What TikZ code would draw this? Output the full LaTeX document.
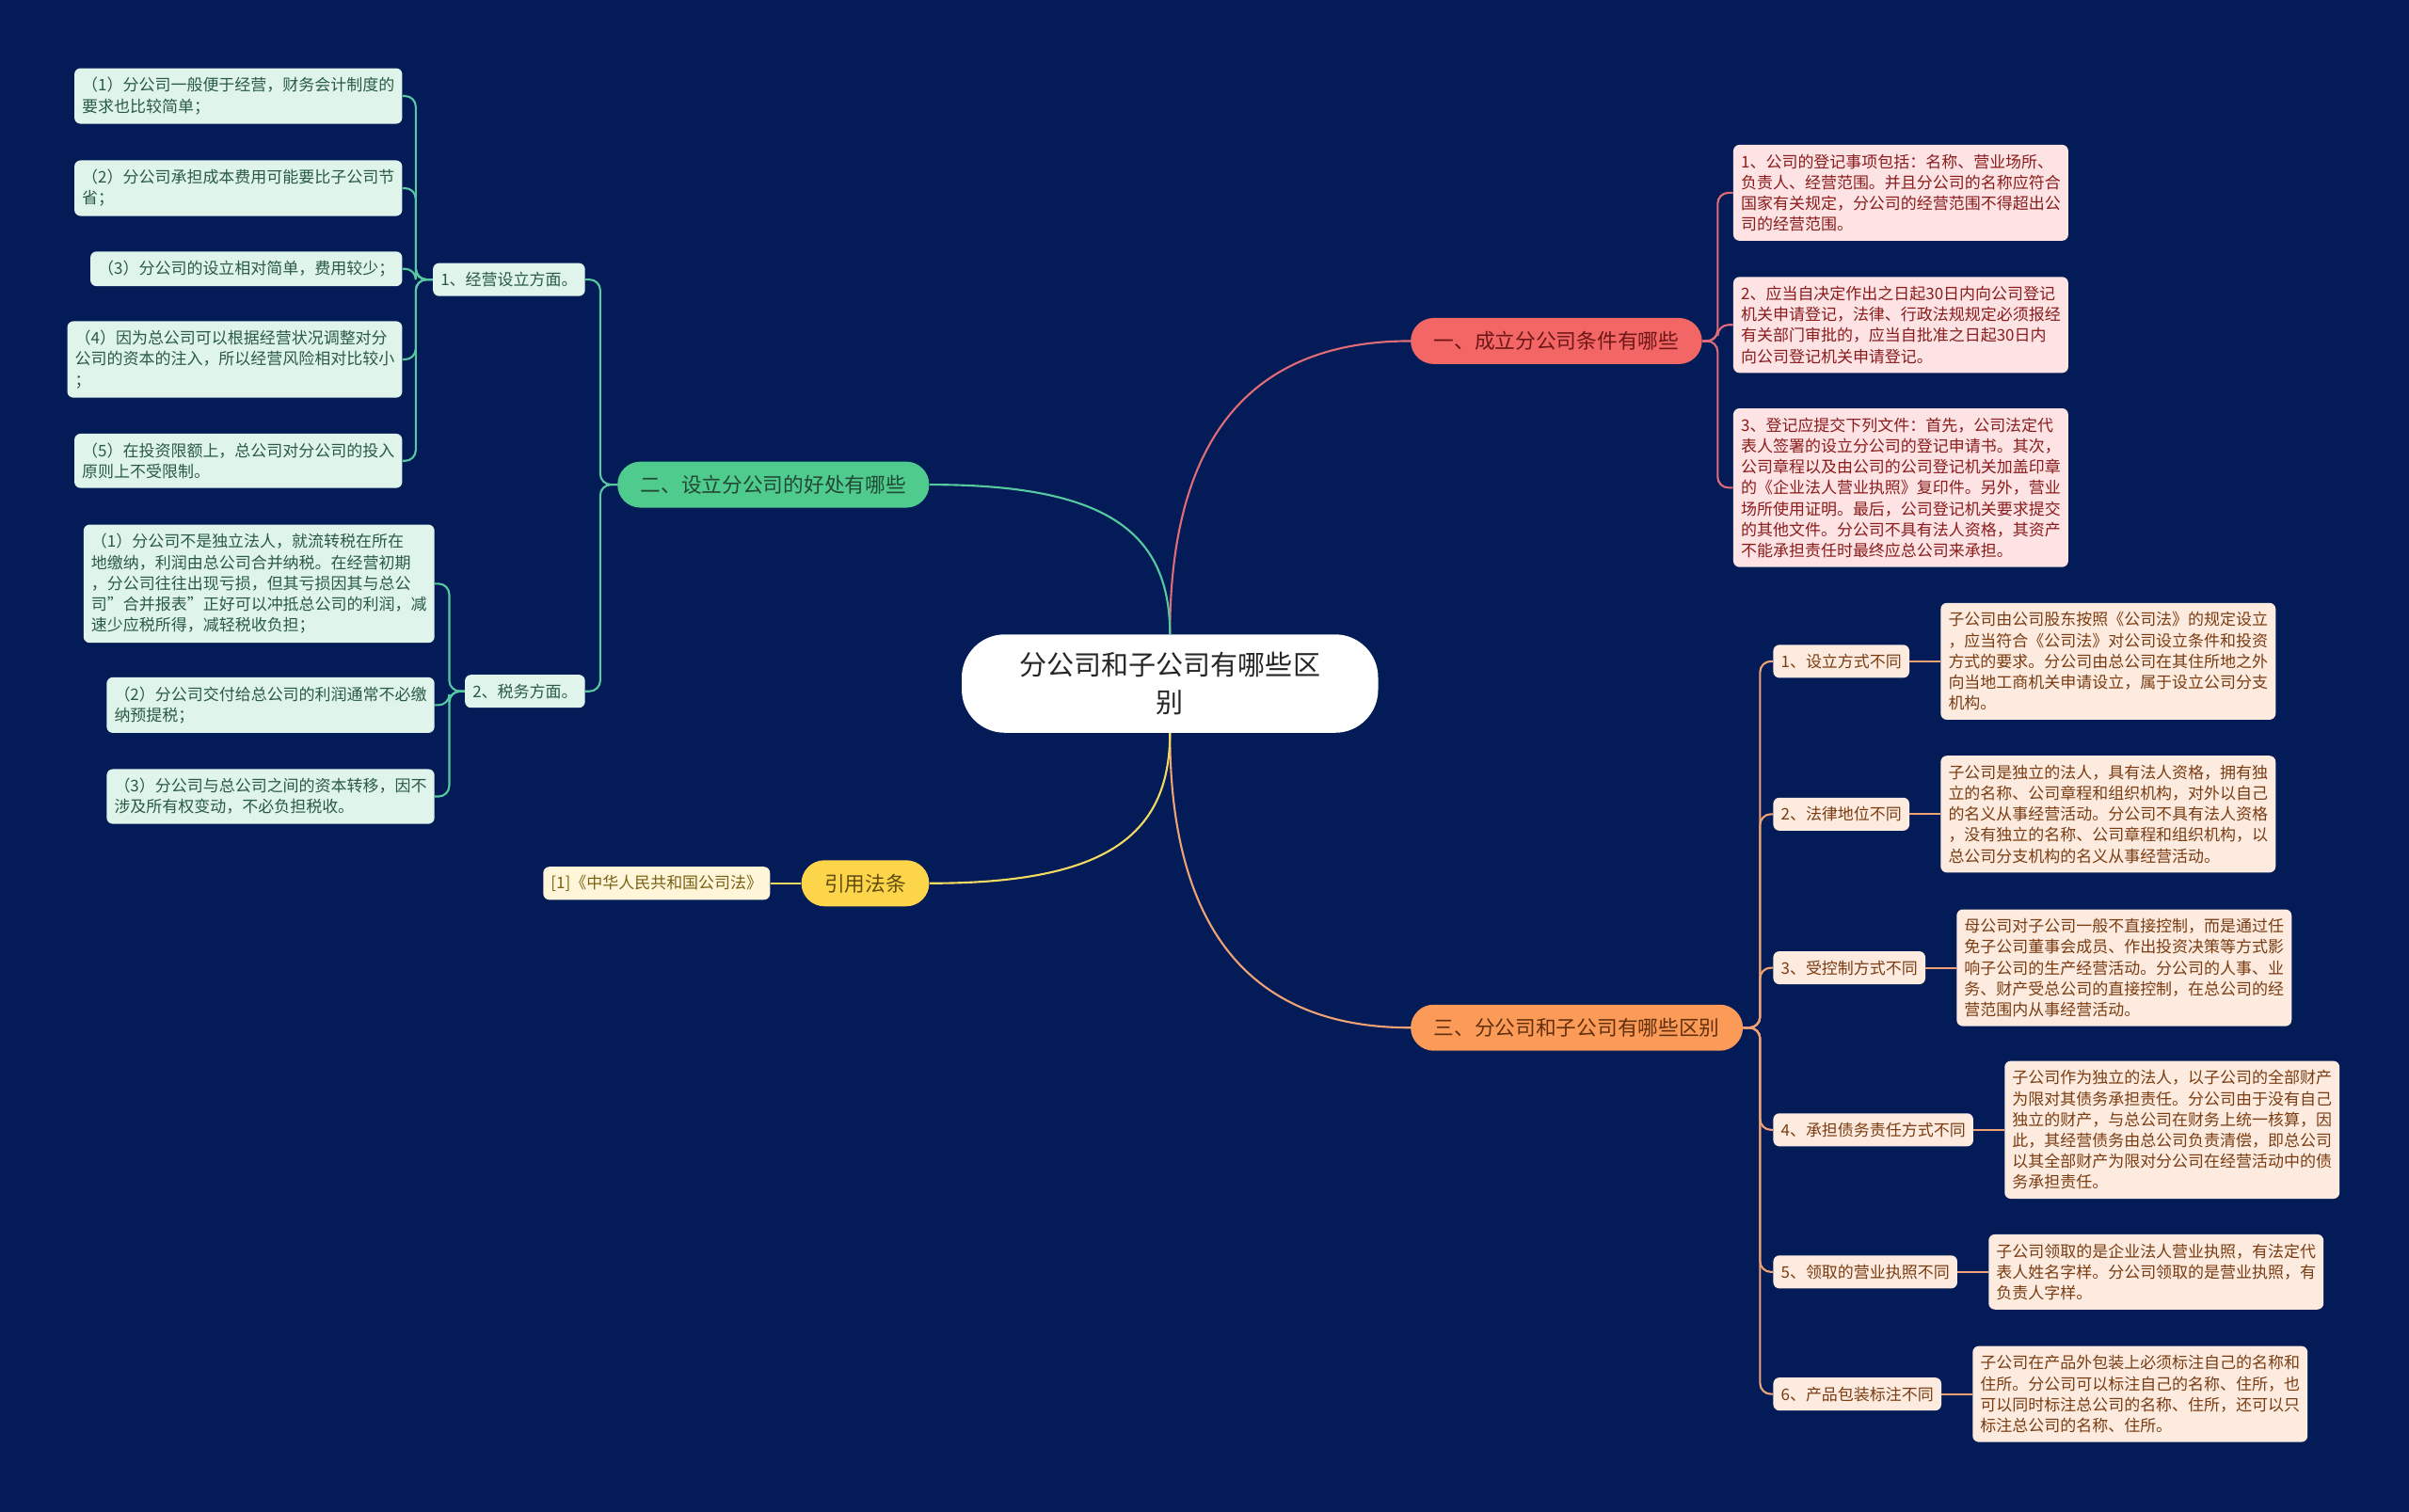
\documentclass[tikz,border=0pt]{standalone}
\usepackage{fontspec}
\setmainfont{Noto Sans CJK SC}
\usetikzlibrary{positioning}
\definecolor{bg}{HTML}{031B56}
\definecolor{rootfill}{HTML}{FFFFFF}
\definecolor{redmain}{HTML}{F26666}
\definecolor{redline}{HTML}{E06C78}
\definecolor{redleaf}{HTML}{FDE3E4}
\definecolor{redtext}{HTML}{8A1C1C}
\definecolor{greenmain}{HTML}{4FCB8D}
\definecolor{greenline}{HTML}{56C9A0}
\definecolor{greenleaf}{HTML}{DFF5EB}
\definecolor{greentext}{HTML}{2A5A44}
\definecolor{orangemain}{HTML}{FB9B57}
\definecolor{orangeline}{HTML}{EFA274}
\definecolor{orangeleaf}{HTML}{FDEBDF}
\definecolor{orangetext}{HTML}{7A3C12}
\definecolor{yellowmain}{HTML}{FDD54B}
\definecolor{yellowline}{HTML}{F2DA62}
\definecolor{yellowleaf}{HTML}{FFF6DA}
\definecolor{yellowtext}{HTML}{7A6012}
\tikzset{
  root/.style={fill=rootfill, text=black!85, rounded corners=28pt, align=center,
    minimum width=271pt, minimum height=64pt, inner sep=0pt,
    font=\fontsize{17.8}{24}\selectfont},
  branch/.style={rounded corners=15pt, inner xsep=15pt, inner ysep=0pt,
    minimum height=30pt, font=\fontsize{13.3}{16}\selectfont},
  sub/.style={rounded corners=4pt, inner xsep=5pt, inner ysep=0pt,
    minimum height=21.5pt, font=\fontsize{10.4}{12}\selectfont},
  leaf/.style={rounded corners=4pt, inner xsep=5pt, inner ysep=6pt, align=left,
    font=\fontsize{10.4}{13.6}\selectfont},
  gleaf/.style={leaf, fill=greenleaf, text=greentext, anchor=east},
  rleaf/.style={leaf, fill=redleaf, text=redtext, anchor=west},
  oleaf/.style={leaf, fill=orangeleaf, text=orangetext},
  gsub/.style={sub, fill=greenleaf, text=greentext, anchor=east},
  osub/.style={sub, fill=orangeleaf, text=orangetext, anchor=west},
  link/.style={line width=1.3pt},
  bracket/.style={link, rounded corners=7pt}
}
\begin{document}
\begin{tikzpicture}[x=1pt,y=-1pt]
\useasboundingbox (0,0) rectangle (1568,984);
\fill[bg] (0,0) rectangle (1568,984);

% centre and main branches
\node[root] (root) at (761.5,445) {分公司和子公司有哪些区\\别};
\node[branch, fill=redmain, text=redtext!80!black, anchor=west] (cond) at (918,222) {一、成立分公司条件有哪些};
\node[branch, fill=greenmain, text=greentext!80!black, anchor=east] (merit) at (605,315.5) {二、设立分公司的好处有哪些};
\node[branch, fill=orangemain, text=orangetext!80!black, anchor=west] (diff) at (918,669) {三、分公司和子公司有哪些区别};
\node[branch, fill=yellowmain, text=yellowtext!80!black, anchor=east] (law) at (605,575) {引用法条};

\draw[link, redline] (root.north) .. controls +(0,-120) and +(-110,0) .. (cond.west);
\draw[link, greenline] (root.north) .. controls +(0,-70) and +(110,0) .. (merit.east);
\draw[link, orangeline] (root.south) .. controls +(0,120) and +(-110,0) .. (diff.west);
\draw[link, yellowline] (root.south) .. controls +(0,70) and +(110,0) .. (law.east);

% 一、成立分公司条件
\node[rleaf] (cond1) at (1128,125.5) {1、公司的登记事项包括：名称、营业场所、\\负责人、经营范围。并且分公司的名称应符合\\国家有关规定，分公司的经营范围不得超出公\\司的经营范围。};
\node[rleaf] (cond2) at (1128,211.5) {2、应当自决定作出之日起30日内向公司登记\\机关申请登记，法律、行政法规规定必须报经\\有关部门审批的，应当自批准之日起30日内\\向公司登记机关申请登记。};
\node[rleaf] (cond3) at (1128,317.5) {3、登记应提交下列文件：首先，公司法定代\\表人签署的设立分公司的登记申请书。其次，\\公司章程以及由公司的公司登记机关加盖印章\\的《企业法人营业执照》复印件。另外，营业\\场所使用证明。最后，公司登记机关要求提交\\的其他文件。分公司不具有法人资格，其资产\\不能承担责任时最终应总公司来承担。};
\draw[bracket, redline] (cond.east) -- ++(10,0) |- (cond1.west);
\draw[bracket, redline] (cond.east) -- ++(10,0) |- (cond2.west);
\draw[bracket, redline] (cond.east) -- ++(10,0) |- (cond3.west);

% 二、设立分公司的好处
\node[gsub] (run) at (381,182) {1、经营设立方面。};
\node[gsub] (tax) at (381,450) {2、税务方面。};
\draw[bracket, greenline] (merit.west) -- ++(-11,0) |- (run.east);
\draw[bracket, greenline] (merit.west) -- ++(-11,0) |- (tax.east);

\node[gleaf] (run1) at (262,62.5) {（1）分公司一般便于经营，财务会计制度的\\要求也比较简单；};
\node[gleaf] (run2) at (262,122.5) {（2）分公司承担成本费用可能要比子公司节\\省；};
\node[gleaf] (run3) at (262,175) {（3）分公司的设立相对简单，费用较少；};
\node[gleaf] (run4) at (262,234) {（4）因为总公司可以根据经营状况调整对分\\公司的资本的注入，所以经营风险相对比较小\\；};
\node[gleaf] (run5) at (262,300) {（5）在投资限额上，总公司对分公司的投入\\原则上不受限制。};
\draw[bracket, greenline] (run.west) -- ++(-11,0) |- (run1.east);
\draw[bracket, greenline] (run.west) -- ++(-11,0) |- (run2.east);
\draw[bracket, greenline] (run.west) -- ++(-11,0) |- (run3.east);
\draw[bracket, greenline] (run.west) -- ++(-11,0) |- (run4.east);
\draw[bracket, greenline] (run.west) -- ++(-11,0) |- (run5.east);

\node[gleaf] (tax1) at (283,380) {（1）分公司不是独立法人，就流转税在所在\\地缴纳，利润由总公司合并纳税。在经营初期\\，分公司往往出现亏损，但其亏损因其与总公\\司\symbol{34}合并报表\symbol{34}正好可以冲抵总公司的利润，减\\速少应税所得，减轻税收负担；};
\node[gleaf] (tax2) at (283,459) {（2）分公司交付给总公司的利润通常不必缴\\纳预提税；};
\node[gleaf] (tax3) at (283,518.5) {（3）分公司与总公司之间的资本转移，因不\\涉及所有权变动，不必负担税收。};
\draw[bracket, greenline] (tax.west) -- ++(-10,0) |- (tax1.east);
\draw[bracket, greenline] (tax.west) -- ++(-10,0) |- (tax2.east);
\draw[bracket, greenline] (tax.west) -- ++(-10,0) |- (tax3.east);

% 三、分公司和子公司的区别
\node[osub] (way) at (1154,430.5) {1、设立方式不同};
\node[osub] (status) at (1154,530) {2、法律地位不同};
\node[osub] (control) at (1154,630) {3、受控制方式不同};
\node[osub] (debt) at (1154,735.5) {4、承担债务责任方式不同};
\node[osub] (licence) at (1154,828) {5、领取的营业执照不同};
\node[osub] (pack) at (1154,907.5) {6、产品包装标注不同};
\draw[bracket, orangeline] (diff.east) -- ++(11,0) |- (way.west);
\draw[bracket, orangeline] (diff.east) -- ++(11,0) |- (status.west);
\draw[bracket, orangeline] (diff.east) -- ++(11,0) |- (control.west);
\draw[bracket, orangeline] (diff.east) -- ++(11,0) |- (debt.west);
\draw[bracket, orangeline] (diff.east) -- ++(11,0) |- (licence.west);
\draw[bracket, orangeline] (diff.east) -- ++(11,0) |- (pack.west);

\node[oleaf, right=20pt of way] (way1) {子公司由公司股东按照《公司法》的规定设立\\，应当符合《公司法》对公司设立条件和投资\\方式的要求。分公司由总公司在其住所地之外\\向当地工商机关申请设立，属于设立公司分支\\机构。};
\node[oleaf, right=20pt of status] (status1) {子公司是独立的法人，具有法人资格，拥有独\\立的名称、公司章程和组织机构，对外以自己\\的名义从事经营活动。分公司不具有法人资格\\，没有独立的名称、公司章程和组织机构，以\\总公司分支机构的名义从事经营活动。};
\node[oleaf, right=20pt of control] (control1) {母公司对子公司一般不直接控制，而是通过任\\免子公司董事会成员、作出投资决策等方式影\\响子公司的生产经营活动。分公司的人事、业\\务、财产受总公司的直接控制，在总公司的经\\营范围内从事经营活动。};
\node[oleaf, right=20pt of debt] (debt1) {子公司作为独立的法人，以子公司的全部财产\\为限对其债务承担责任。分公司由于没有自己\\独立的财产，与总公司在财务上统一核算，因\\此，其经营债务由总公司负责清偿，即总公司\\以其全部财产为限对分公司在经营活动中的债\\务承担责任。};
\node[oleaf, right=20pt of licence] (licence1) {子公司领取的是企业法人营业执照，有法定代\\表人姓名字样。分公司领取的是营业执照，有\\负责人字样。};
\node[oleaf, right=20pt of pack] (pack1) {子公司在产品外包装上必须标注自己的名称和\\住所。分公司可以标注自己的名称、住所，也\\可以同时标注总公司的名称、住所，还可以只\\标注总公司的名称、住所。};
\draw[link, orangeline] (way) -- (way1);
\draw[link, orangeline] (status) -- (status1);
\draw[link, orangeline] (control) -- (control1);
\draw[link, orangeline] (debt) -- (debt1);
\draw[link, orangeline] (licence) -- (licence1);
\draw[link, orangeline] (pack) -- (pack1);

% 引用法条
\node[sub, fill=yellowleaf, text=yellowtext, left=20pt of law] (lawref) {[1]《中华人民共和国公司法》};
\draw[link, yellowline] (law) -- (lawref);
\end{tikzpicture}
\end{document}
